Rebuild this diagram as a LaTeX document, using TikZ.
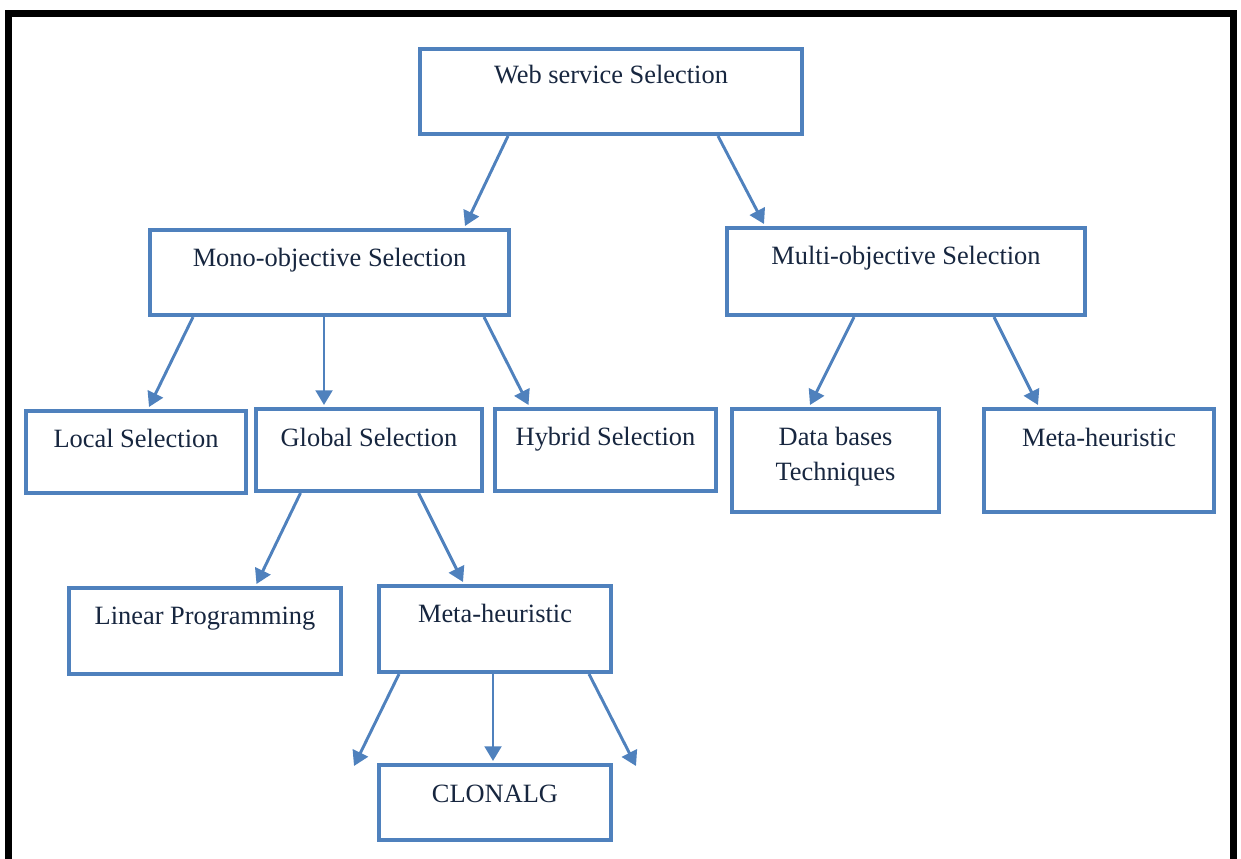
\documentclass[tikz,border=0pt]{standalone}
\usepackage{fontspec}
\setmainfont{Liberation Serif}
\usetikzlibrary{arrows.meta,calc}
\definecolor{boxblue}{HTML}{4F81BD}
\definecolor{txtnavy}{HTML}{17263F}
\begin{document}
\begin{tikzpicture}[x=0.75pt,y=-0.75pt,
  box/.style={draw=boxblue, line width=3pt, rectangle, inner sep=0pt, fill=white},
  lbl/.style={anchor=base, inner sep=0pt, text=txtnavy, align=center,
              font=\fontsize{19.8pt}{26.25pt}\selectfont},
  conn/.style={draw=boxblue, line width=2.2pt,
               -{Triangle[length=11pt,width=12.5pt]}}]
\useasboundingbox (0,0) rectangle (1241,858);
% outer frame (no bottom edge visible)
\draw[line width=5.25pt] (8.5,880) -- (8.5,13) -- (1233.5,13) -- (1233.5,880);

% boxes
\node[box, minimum width=382*0.75pt, minimum height=85*0.75pt] (web)    at (611,91.5)  {};
\node[box, minimum width=359*0.75pt, minimum height=85*0.75pt] (mono)   at (329.5,272.5) {};
\node[box, minimum width=358*0.75pt, minimum height=87*0.75pt] (multi)  at (906,271.5) {};
\node[box, minimum width=220*0.75pt, minimum height=82*0.75pt] (local)  at (136,452)   {};
\node[box, minimum width=226*0.75pt, minimum height=82*0.75pt] (global) at (369,450)   {};
\node[box, minimum width=221*0.75pt, minimum height=82*0.75pt] (hybrid) at (605.5,450) {};
\node[box, minimum width=207*0.75pt, minimum height=103*0.75pt] (data)  at (835.5,460.5) {};
\node[box, minimum width=230*0.75pt, minimum height=103*0.75pt] (metar) at (1099,460.5) {};
\node[box, minimum width=272*0.75pt, minimum height=86*0.75pt] (linear) at (205,631)   {};
\node[box, minimum width=232*0.75pt, minimum height=86*0.75pt] (metam)  at (495,629)   {};
\node[box, minimum width=232*0.75pt, minimum height=75*0.75pt] (clon)   at (495,802.5) {};

% labels
\node[lbl] (webt)    at ($(web.north)+(0,36.5)$)    {Web service Selection};
\node[lbl] (monot)   at ($(mono.north)+(0,38)$)     {Mono-objective Selection};
\node[lbl] (multit)  at ($(multi.north)+(0,38)$)    {Multi-objective Selection};
\node[lbl] (localt)  at ($(local.north)+(0,38)$)    {Local Selection};
\node[lbl] (globalt) at ($(global.north)+(0,39)$)   {Global Selection};
\node[lbl] (hybridt) at ($(hybrid.north)+(0,38)$)   {Hybrid Selection};
\node[lbl] (datat)   at ($(data.north)+(0,73.5)$)   {Data bases\\Techniques};
\node[lbl] (metart)  at ($(metar.north)+(0,39)$)    {Meta-heuristic};
\node[lbl] (lineart) at ($(linear.north)+(0,38)$)   {Linear Programming};
\node[lbl] (metamt)  at ($(metam.north)+(0,38)$)    {Meta-heuristic};
\node[lbl] (clont)   at ($(clon.north)+(0,39)$)     {CLONALG};

% free arrow ends
\coordinate (fl) at (354,766);
\coordinate (fr) at (636,766);

% connectors
\draw[conn] ($(web.south)+(-103,0)$)   -- ($(mono.north)+(135.5,-2)$);
\draw[conn] ($(web.south)+(107,0)$)    -- ($(multi.north)+(-142,-2)$);
\draw[conn] ($(mono.south)+(-136.5,0)$) -- ($(local.north)+(13,-2)$);
\draw[conn] ($(mono.south)+(-5.5,0)$)  -- ($(global.north)+(-45,-2)$);
\draw[conn] ($(mono.south)+(154.5,0)$) -- ($(hybrid.north)+(-77,-2)$);
\draw[conn] ($(multi.south)+(-52,0)$)  -- ($(data.north)+(-25.5,-2)$);
\draw[conn] ($(multi.south)+(88,0)$)   -- ($(metar.north)+(-61,-2)$);
\draw[conn] ($(global.south)+(-68.5,0)$) -- ($(linear.north)+(51.5,-2)$);
\draw[conn] ($(global.south)+(49.5,0)$)  -- ($(metam.north)+(-32,-2)$);
\draw[conn] ($(metam.south)+(-96,0)$)  -- (fl);
\draw[conn] ($(metam.south)+(-2,0)$)   -- ($(clon.north)+(-2,-2)$);
\draw[conn] ($(metam.south)+(94,0)$)   -- (fr);
\end{tikzpicture}
\end{document}
